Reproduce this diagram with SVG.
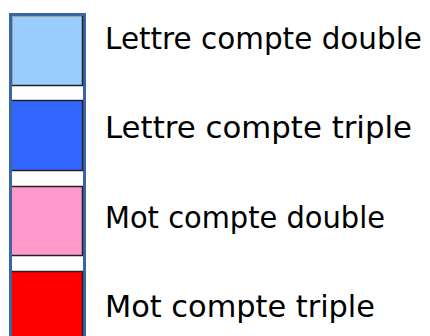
<svg xmlns="http://www.w3.org/2000/svg" width="430" height="336" viewBox="0 0 430 336">
<style>
.lbl{font-family:"DejaVu Sans","Noto Sans",sans-serif;font-size:30px;fill:#000}
.sq{stroke:none}
.sh{fill:none;stroke:#222;stroke-width:1.5}
.hl{fill:none;stroke:#a0a0a0;stroke-width:1}
</style>
<rect x="0" y="0" width="430" height="336" fill="#fff"/>
<g id="bar">
<rect x="9" y="13" width="77" height="330" fill="#3867a6"/>
<rect x="12" y="16" width="71" height="330" fill="#fff"/>
</g>
<g id="lcd">
<rect class="sq" x="12" y="16" width="71" height="70" fill="#99ccff"/>
<path class="hl" d="M12.5,86 V16.5 H83"/>
<path class="sh" d="M82.5,16 V85.5 H12"/>
</g>
<g id="lct">
<rect class="sq" x="12" y="100" width="71" height="71" fill="#3366ff"/>
<path class="sh" d="M12,100.5 H83 M82.5,100 V170.5 H12"/>
</g>
<g id="mcd">
<rect class="sq" x="12" y="186" width="71" height="70" fill="#ff99cc"/>
<path class="sh" d="M12,186.5 H83 M82.5,186 V255.5 H12"/>
</g>
<g id="mct">
<rect class="sq" x="12" y="271" width="71" height="70" fill="#ff0000"/>
<path class="sh" d="M12,271.5 H83 M82.5,271 V341"/>
</g>
<g id="labels">
<text class="lbl" x="105" y="49" textLength="317" lengthAdjust="spacingAndGlyphs">Lettre compte double</text>
<text class="lbl" x="105" y="138" textLength="307" lengthAdjust="spacingAndGlyphs">Lettre compte triple</text>
<text class="lbl" x="105" y="228" textLength="280" lengthAdjust="spacingAndGlyphs">Mot compte double</text>
<text class="lbl" x="105" y="317" textLength="270" lengthAdjust="spacingAndGlyphs">Mot compte triple</text>
</g>
<g id="connectors"/>
</svg>
